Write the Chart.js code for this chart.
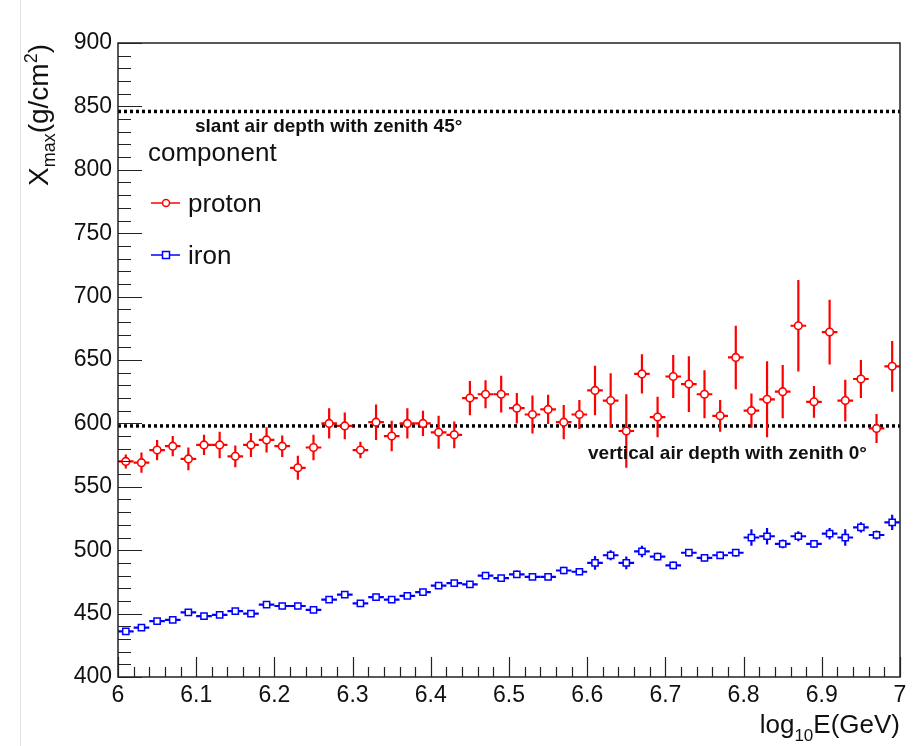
<!DOCTYPE html>
<html lang="en">
<head>
<meta charset="UTF-8">
<title>Xmax vs energy</title>
<script src="https://cdn.jsdelivr.net/npm/chart.js"></script>
<style>
  html, body { margin: 0; padding: 0; background: #fff; }
  #wrap { width: 920px; height: 746px; position: relative; }
</style>
</head>
<body>
<div id="wrap"><canvas id="chart" width="920" height="746"></canvas></div>
<script>
// bin centres in log10(E/GeV)
const logE = [6.01, 6.03, 6.05, 6.07, 6.09, 6.11, 6.13, 6.15, 6.17, 6.19,
              6.21, 6.23, 6.25, 6.27, 6.29, 6.31, 6.33, 6.35, 6.37, 6.39,
              6.41, 6.43, 6.45, 6.47, 6.49, 6.51, 6.53, 6.55, 6.57, 6.59,
              6.61, 6.63, 6.65, 6.67, 6.69, 6.71, 6.73, 6.75, 6.77, 6.79,
              6.81, 6.83, 6.85, 6.87, 6.89, 6.91, 6.93, 6.95, 6.97, 6.99];
const binHalfWidth = 0.01;

const protonXmax = [570, 569, 579, 582, 572, 583, 583, 574, 583, 587,
                    582, 565, 581, 600, 598, 579, 601, 590, 600, 600,
                    593, 591, 620, 623, 623, 612, 607, 611, 601, 607,
                    626, 618, 594, 639, 605, 637, 631, 623, 606, 652,
                    610, 619, 625, 677, 617, 672, 618, 635, 596, 645];
const protonErr = [5.5, 8, 8, 8, 9, 8, 10.5, 8.5, 9.5, 10,
                   8.5, 9.5, 10, 12, 10.5, 6.5, 14, 12, 12, 10,
                   13, 10.5, 13.5, 11, 14.5, 12, 15, 11.5, 13.5, 11.5,
                   19.5, 21.5, 29, 15.5, 16, 17, 22, 19, 12.5, 25,
                   13.5, 30, 21, 36, 12.5, 25.5, 16.5, 15, 11.5, 20];

const ironXmax = [436, 439, 444, 445, 451, 448, 449, 452, 450, 457,
                  456, 456, 453, 461, 465, 458, 463, 461, 464, 467,
                  472, 474, 473, 480, 478, 481, 479, 479, 484, 483,
                  490, 496, 490, 499, 495, 488, 498, 494, 496, 498,
                  510, 511, 505, 511, 505, 513, 510, 518, 512, 522];
const ironErr = [2.5, 2.5, 2.5, 2.5, 2.5, 2.5, 2.5, 2.5, 2.5, 2.5,
                 2.5, 2.5, 2.5, 2.5, 2.5, 2.5, 2.5, 2.5, 2.5, 2.5,
                 2.5, 2.5, 2.5, 2.5, 2.5, 3, 2.5, 2.5, 3, 2.5,
                 5.5, 4, 5, 4.5, 3, 3, 3, 3, 3, 3,
                 6.5, 6.5, 3.5, 4, 3, 4.5, 6.5, 4, 3.5, 6];

// reference depths (g/cm2)
const verticalDepth = 598;
const slantDepth = 846;

const xTicks = { min: 6, max: 7, step: 0.1, minor: 0.02 };
const yTicks = { min: 400, max: 900, step: 50, minor: 10 };

const FONT = '"Liberation Sans", Arial, sans-serif';
const INK = '#111';

function pts(xs, ys, es) {
  return xs.map((x, i) => ({ x: x, y: ys[i], err: es[i] }));
}

// draw text with sub/superscripts: parts = [[text, size, dy], ...]
function richText(ctx, parts, x, y) {
  let cx = x;
  parts.forEach(p => {
    ctx.font = p[1] + 'px ' + FONT;
    ctx.fillText(p[0], cx, y + p[2]);
    cx += ctx.measureText(p[0]).width;
  });
  return cx - x;
}
function richWidth(ctx, parts) {
  let w = 0;
  parts.forEach(p => { ctx.font = p[1] + 'px ' + FONT; w += ctx.measureText(p[0]).width; });
  return w;
}

const rootStyle = {
  id: 'rootStyle',
  beforeDatasetsDraw(chart) {
    const { ctx, chartArea: a, scales: { x, y } } = chart;
    ctx.save();
    // reference lines
    ctx.strokeStyle = '#000';
    ctx.lineWidth = 3.5;
    ctx.setLineDash([3, 3]);
    [slantDepth, verticalDepth].forEach(v => {
      const py = y.getPixelForValue(v);
      ctx.beginPath();
      ctx.moveTo(a.left, py);
      ctx.lineTo(a.right, py);
      ctx.stroke();
    });
    ctx.setLineDash([]);
    // error bars
    chart.data.datasets.forEach(ds => {
      ctx.strokeStyle = ds.borderColor;
      ctx.lineWidth = 2.2;
      ds.data.forEach(p => {
        const px = x.getPixelForValue(p.x);
        const py = y.getPixelForValue(p.y);
        ctx.beginPath();
        ctx.moveTo(px, y.getPixelForValue(p.y - p.err));
        ctx.lineTo(px, y.getPixelForValue(p.y + p.err));
        ctx.moveTo(x.getPixelForValue(p.x - binHalfWidth), py);
        ctx.lineTo(x.getPixelForValue(p.x + binHalfWidth), py);
        ctx.stroke();
      });
    });
    ctx.restore();
  },
  afterDraw(chart) {
    const { ctx, chartArea: a, scales: { x, y } } = chart;
    ctx.save();
    // faint screenshot border on the left
    ctx.strokeStyle = '#e2e2e2';
    ctx.lineWidth = 1;
    ctx.beginPath(); ctx.moveTo(20.5, 0); ctx.lineTo(20.5, 746); ctx.stroke();

    // frame
    ctx.strokeStyle = '#222';
    ctx.lineWidth = 1.5;
    ctx.strokeRect(a.left, a.top, a.right - a.left, a.bottom - a.top);

    // ticks (inside the frame, left and bottom only)
    ctx.beginPath();
    for (let v = yTicks.min; v <= yTicks.max + 0.001; v += yTicks.minor) {
      const major = Math.abs(v % yTicks.step) < 0.001;
      const py = Math.round(y.getPixelForValue(v)) + 0.5;
      ctx.moveTo(a.left, py);
      ctx.lineTo(a.left + (major ? 24 : 13), py);
    }
    for (let i = 0; i <= 50; i++) {
      const v = xTicks.min + i * xTicks.minor;
      const major = i % 5 === 0;
      const px = Math.round(x.getPixelForValue(v)) + 0.5;
      ctx.moveTo(px, a.bottom);
      ctx.lineTo(px, a.bottom - (major ? 20 : 10));
    }
    ctx.lineWidth = 1.2;
    ctx.stroke();

    ctx.fillStyle = INK;
    ctx.textBaseline = 'alphabetic';
    ctx.textAlign = 'left';

    // reference line labels
    ctx.font = 'bold 19px ' + FONT;
    ctx.fillText('slant air depth with zenith 45\u00B0', 195, 132);
    ctx.fillText('vertical air depth with zenith 0\u00B0', 588, 459);

    // legend
    ctx.font = '26px ' + FONT;
    ctx.fillText('component', 148, 161);
    const legend = [
      { label: 'proton', color: 'red', style: 'circle', y: 203 },
      { label: 'iron', color: 'blue', style: 'rect', y: 255 }
    ];
    legend.forEach(l => {
      ctx.strokeStyle = l.color;
      ctx.lineWidth = 1.5;
      ctx.beginPath();
      ctx.moveTo(151, l.y); ctx.lineTo(180, l.y);
      ctx.stroke();
      ctx.fillStyle = '#fff';
      ctx.beginPath();
      if (l.style === 'circle') ctx.arc(166, l.y, 3.5, 0, Math.PI * 2);
      else ctx.rect(162.5, l.y - 3.5, 7, 7);
      ctx.fill(); ctx.stroke();
      ctx.fillStyle = INK;
      ctx.font = '26px ' + FONT;
      ctx.fillText(l.label, 188, l.y + 9);
    });

    // x axis title, right aligned
    const xt = [['log', 26, 0], ['10', 17, 8], ['E(GeV)', 26, 0]];
    richText(ctx, xt, a.right - richWidth(ctx, xt), 733);

    // y axis title, rotated
    const yt = [['X', 28, 0], ['max', 18, 7], ['(g/cm', 28, 0], ['2', 18, -11], [')', 28, 0]];
    const yw = richWidth(ctx, yt);
    ctx.translate(48, 115 + yw / 2);
    ctx.rotate(-Math.PI / 2);
    richText(ctx, yt, 0, 0);
    ctx.restore();
  }
};

new Chart(document.getElementById('chart'), {
  type: 'scatter',
  data: {
    datasets: [
      {
        label: 'proton',
        data: pts(logE, protonXmax, protonErr),
        borderColor: 'red',
        backgroundColor: '#fff',
        pointStyle: 'circle',
        pointRadius: 3.8,
        pointBorderWidth: 1.6
      },
      {
        label: 'iron',
        data: pts(logE, ironXmax, ironErr),
        borderColor: 'blue',
        backgroundColor: '#fff',
        pointStyle: 'rect',
        pointRadius: 4.4,
        pointBorderWidth: 1.5
      }
    ]
  },
  options: {
    responsive: false,
    animation: false,
    layout: { padding: { left: 0, right: 20, top: 43, bottom: 0 } },
    plugins: { legend: { display: false }, tooltip: { enabled: false } },
    elements: { point: { hoverRadius: 4 } },
    scales: {
      x: {
        type: 'linear',
        min: xTicks.min, max: xTicks.max,
        border: { display: false },
        grid: { display: false, drawTicks: false },
        ticks: {
          stepSize: xTicks.step, autoSkip: false, maxRotation: 0, padding: 5,
          color: INK, font: { family: FONT, size: 23 },
          callback: v => String(Number(v.toFixed(1)))
        },
        afterFit: s => { s.height = 69; }
      },
      y: {
        min: yTicks.min, max: yTicks.max,
        border: { display: false },
        grid: { display: false, drawTicks: false },
        ticks: {
          stepSize: yTicks.step, padding: 6,
          color: INK, font: { family: FONT, size: 23 }
        },
        afterFit: s => { s.width = 118; }
      }
    }
  },
  plugins: [rootStyle]
});
</script>
</body>
</html>
